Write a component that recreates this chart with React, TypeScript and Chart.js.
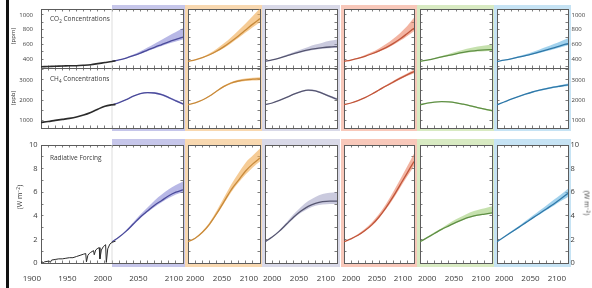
import React, { useEffect, useRef } from "react";
import { Chart, registerables } from "chart.js";

Chart.register(...registerables);

// ---------------- data ----------------
const scenarioYears = [2000, 2010, 2020, 2030, 2040, 2050, 2060, 2070, 2080, 2090, 2100];
const scenarioNames = ["A1B", "A1FI", "A1T", "A2", "B1", "B2"];

const histYears = [1900, 1910, 1920, 1930, 1940, 1950, 1960, 1970, 1980, 1990, 2000, 2005];
const histCO2 = [296, 300, 303, 307, 310, 311, 317, 325, 339, 354, 369, 379];
const histCH4 = [880, 925, 980, 1030, 1080, 1150, 1250, 1380, 1540, 1690, 1760, 1775];

const histRFYears = [1900, 1902, 1903, 1905, 1910, 1912, 1913, 1915, 1920, 1925, 1930, 1935, 1940, 1945, 1950, 1955, 1960, 1963, 1964, 1966, 1968, 1970, 1974, 1975, 1977, 1980, 1982, 1983, 1985, 1988, 1990, 1991, 1992, 1994, 1997, 2000, 2005];
const histRF = [0.05, 0.1, 0.0, 0.1, 0.15, 0.15, 0.05, 0.25, 0.3, 0.35, 0.35, 0.4, 0.45, 0.45, 0.55, 0.65, 0.75, 0.8, 0.1, 0.65, 0.8, 0.9, 1.05, 0.7, 1.1, 1.25, 1.3, 0.35, 1.1, 1.4, 1.5, 1.55, 0.05, 1.2, 1.6, 1.75, 1.85];

// CO2 (ppm) per scenario: A1B, A1FI, A1T, A2, B1, B2
const co2Mid = [
  [369, 389, 415, 447, 483, 522, 561, 598, 635, 668, 700],
  [369, 391, 420, 460, 510, 570, 640, 715, 795, 875, 950],
  [369, 390, 415, 444, 474, 502, 525, 543, 556, 565, 570],
  [369, 388, 411, 439, 473, 512, 557, 610, 672, 745, 820],
  [369, 388, 408, 430, 452, 473, 492, 508, 520, 527, 530],
  [369, 386, 405, 426, 448, 472, 498, 525, 553, 583, 612],
];
const co2Low = [
  [369, 387, 411, 440, 473, 508, 543, 577, 611, 640, 668],
  [369, 389, 415, 452, 498, 552, 617, 687, 760, 832, 900],
  [369, 388, 411, 438, 466, 491, 512, 528, 540, 547, 550],
  [369, 386, 408, 433, 465, 500, 542, 591, 648, 712, 780],
  [369, 386, 404, 424, 444, 463, 480, 493, 503, 508, 510],
  [369, 384, 401, 420, 440, 462, 485, 509, 535, 562, 590],
];
const co2High = [
  [369, 392, 423, 462, 507, 557, 610, 663, 717, 768, 818],
  [369, 394, 430, 480, 542, 615, 698, 790, 885, 985, 1090],
  [369, 393, 423, 458, 496, 532, 566, 597, 624, 648, 668],
  [369, 391, 419, 455, 497, 546, 604, 673, 752, 845, 960],
  [369, 391, 415, 442, 471, 500, 527, 551, 571, 585, 595],
  [369, 389, 412, 438, 466, 497, 531, 567, 604, 643, 682],
];

// CH4 (ppb)
const ch4Mid = [
  [1760, 1870, 2020, 2190, 2320, 2370, 2350, 2270, 2120, 1960, 1800],
  [1760, 1860, 2000, 2200, 2450, 2680, 2850, 2950, 3010, 3040, 3060],
  [1760, 1850, 1980, 2130, 2290, 2420, 2490, 2460, 2330, 2180, 2040],
  [1760, 1850, 1970, 2120, 2300, 2500, 2700, 2890, 3080, 3260, 3420],
  [1760, 1840, 1895, 1920, 1905, 1860, 1790, 1710, 1620, 1540, 1470],
  [1760, 1900, 2040, 2170, 2290, 2400, 2490, 2570, 2640, 2700, 2760],
];
const ch4Low = [
  [1760, 1862, 2005, 2170, 2295, 2340, 2315, 2230, 2075, 1910, 1750],
  [1760, 1852, 1985, 2180, 2420, 2640, 2800, 2895, 2950, 2975, 2990],
  [1760, 1842, 1965, 2110, 2265, 2390, 2455, 2420, 2285, 2130, 1985],
  [1760, 1842, 1955, 2100, 2275, 2465, 2660, 2840, 3020, 3195, 3340],
  [1760, 1833, 1882, 1902, 1882, 1835, 1762, 1680, 1588, 1505, 1430],
  [1760, 1892, 2025, 2150, 2265, 2370, 2455, 2530, 2595, 2650, 2700],
];
const ch4High = [
  [1760, 1878, 2035, 2210, 2345, 2400, 2385, 2310, 2165, 2010, 1850],
  [1760, 1868, 2015, 2220, 2480, 2720, 2900, 3010, 3075, 3110, 3140],
  [1760, 1858, 1995, 2150, 2315, 2450, 2525, 2500, 2375, 2230, 2095],
  [1760, 1858, 1985, 2140, 2325, 2535, 2745, 2945, 3145, 3330, 3510],
  [1760, 1847, 1908, 1938, 1928, 1885, 1818, 1740, 1652, 1575, 1510],
  [1760, 1908, 2055, 2190, 2315, 2430, 2525, 2610, 2685, 2750, 2820],
];

// Radiative forcing (W m-2)
const rfMid = [
  [1.8, 2.2, 2.7, 3.3, 3.9, 4.4, 4.9, 5.3, 5.7, 6.0, 6.2],
  [1.8, 2.1, 2.6, 3.3, 4.2, 5.2, 6.2, 7.0, 7.8, 8.4, 8.9],
  [1.8, 2.2, 2.7, 3.3, 3.9, 4.4, 4.8, 5.05, 5.2, 5.25, 5.25],
  [1.8, 2.05, 2.35, 2.75, 3.25, 3.9, 4.7, 5.6, 6.6, 7.6, 8.6],
  [1.8, 2.15, 2.5, 2.85, 3.15, 3.45, 3.7, 3.9, 4.05, 4.15, 4.25],
  [1.8, 2.2, 2.6, 3.0, 3.4, 3.8, 4.2, 4.6, 5.0, 5.45, 5.9],
];
const rfLow = [
  [1.8, 2.2, 2.65, 3.2, 3.8, 4.3, 4.75, 5.15, 5.5, 5.8, 6.0],
  [1.8, 2.1, 2.55, 3.2, 4.1, 5.05, 6.0, 6.8, 7.5, 8.1, 8.6],
  [1.8, 2.2, 2.65, 3.2, 3.8, 4.25, 4.6, 4.85, 4.95, 5.0, 5.0],
  [1.8, 2.05, 2.3, 2.7, 3.15, 3.8, 4.55, 5.4, 6.35, 7.3, 8.2],
  [1.8, 2.15, 2.45, 2.8, 3.1, 3.4, 3.65, 3.85, 4.0, 4.1, 4.15],
  [1.8, 2.2, 2.55, 2.95, 3.35, 3.75, 4.1, 4.5, 4.85, 5.25, 5.6],
];
const rfHigh = [
  [1.8, 2.25, 2.8, 3.45, 4.1, 4.7, 5.3, 5.8, 6.25, 6.6, 6.9],
  [1.8, 2.15, 2.7, 3.45, 4.45, 5.55, 6.65, 7.6, 8.5, 9.1, 9.7],
  [1.8, 2.25, 2.8, 3.45, 4.15, 4.75, 5.25, 5.6, 5.85, 5.95, 6.0],
  [1.8, 2.1, 2.45, 2.9, 3.45, 4.15, 5.0, 6.0, 7.05, 8.15, 9.25],
  [1.8, 2.2, 2.6, 2.95, 3.35, 3.7, 4.0, 4.3, 4.5, 4.65, 4.8],
  [1.8, 2.25, 2.7, 3.1, 3.55, 4.0, 4.45, 4.9, 5.35, 5.8, 6.3],
];

const co2Ticks = [400, 600, 800, 1000];
const ch4Ticks = [1000, 2000, 3000];
const rfTicks = [0, 2, 4, 6, 8, 10];
const histYearTicks = [1900, 1950, 2000, 2050, 2100];
const scenYearTicks = [2000, 2050, 2100];

// ---------------- styles ----------------
const FONT = '"Open Sans", "DejaVu Sans", sans-serif';
const TEXT = "#3a3a3a";
const FRAME = "#5c5c5c";
const bandColors = ["#c6c6ea", "#f8d8b0", "#d9d9e8", "#f8c8ba", "#d8eac2", "#c6e3f4"];
const fillColors = [
  "rgba(125,125,210,0.55)",
  "rgba(240,170,80,0.6)",
  "rgba(150,150,190,0.5)",
  "rgba(235,130,100,0.6)",
  "rgba(160,205,120,0.6)",
  "rgba(100,180,225,0.6)",
];
const lineColors = ["#4a4a9a", "#c88a3a", "#555570", "#c0553a", "#5f8f45", "#2f78a8"];

const cols: [number, number][] = [
  [41, 183],
  [188, 260],
  [265, 337],
  [344, 414],
  [420, 492],
  [497, 568],
];

function range(a: number, b: number, s: number) {
  const r: number[] = [];
  for (let v = a; v <= b + 1e-9; v += s) r.push(Math.round(v * 1000) / 1000);
  return r;
}

function pts(xs: number[], ys: number[]) {
  return xs.map((x, i) => ({ x, y: ys[i] }));
}

type Row = {
  key: string;
  top: number;
  bottom: number;
  min: number;
  max: number;
  minor: number[];
  labels: number[];
  mid: number[][];
  low: number[][];
  high: number[][];
  font: number;
  padL: number;
  padR: number;
  mt: number;
  mb: number;
  bandTop: number;
  bandBottom: number;
  topDash: number[] | null;
  showTopBorder: boolean;
  showBottomBorder: boolean;
  xLabels: boolean;
};

const rows: Row[] = [
  {
    key: "co2", top: 9, bottom: 68, min: 280, max: 1080, minor: range(300, 1000, 100), labels: co2Ticks,
    mid: co2Mid, low: co2Low, high: co2High, font: 6, padL: 10.5, padR: 6, mt: 6, mb: 1,
    bandTop: 4, bandBottom: 0, topDash: null, showTopBorder: true, showBottomBorder: false, xLabels: false,
  },
  {
    key: "ch4", top: 68, bottom: 128, min: 600, max: 3600, minor: range(1000, 3500, 500), labels: ch4Ticks,
    mid: ch4Mid, low: ch4Low, high: ch4High, font: 6, padL: 10.5, padR: 6, mt: 1, mb: 5,
    bandTop: 0, bandBottom: 3, topDash: [1.5, 1.2], showTopBorder: true, showBottomBorder: true, xLabels: false,
  },
  {
    key: "rf", top: 145, bottom: 263, min: 0, max: 10, minor: range(0, 10, 1), labels: rfTicks,
    mid: rfMid, low: rfLow, high: rfHigh, font: 7.5, padL: 6, padR: 5, mt: 8, mb: 25,
    bandTop: 6, bandBottom: 4, topDash: null, showTopBorder: true, showBottomBorder: true, xLabels: true,
  },
];

const bandPlugin = {
  id: "panelBand",
  beforeDraw(chart: any, _args: any, opts: any) {
    const { ctx, chartArea: a, scales } = chart;
    ctx.save();
    if (opts && opts.color) {
      const x0 = opts.from != null ? scales.x.getPixelForValue(opts.from) : a.left - opts.side;
      ctx.fillStyle = opts.color;
      ctx.fillRect(x0, a.top - opts.top, a.right + opts.side - x0, a.bottom - a.top + opts.top + opts.bottom);
    }
    ctx.fillStyle = "#ffffff";
    ctx.fillRect(a.left, a.top, a.right - a.left, a.bottom - a.top);
    ctx.restore();
  },
};

function makeAxis(opts: {
  position: string; min: number; max: number; ticks: number[]; fit: number; show: boolean;
  labels: number[]; font: number; padding: number; border: boolean; dash?: number[] | null;
  align?: string; labelOffset?: number;
}) {
  return {
    type: "linear",
    position: opts.position,
    min: opts.min,
    max: opts.max,
    afterBuildTicks: (s: any) => {
      s.ticks = opts.ticks.map((v) => ({ value: v }));
    },
    afterFit: (s: any) => {
      if (s.isHorizontal()) s.height = opts.fit;
      else s.width = opts.fit;
      s.paddingLeft = 0;
      s.paddingRight = 0;
      s.paddingTop = 0;
      s.paddingBottom = 0;
    },
    grid: { display: true, drawOnChartArea: false, drawTicks: true, tickLength: -2.5, color: FRAME, lineWidth: 0.8 },
    border: { display: opts.border, color: FRAME, width: 1, dash: opts.dash || [] },
    ticks: {
      display: opts.show,
      autoSkip: false,
      maxRotation: 0,
      minRotation: 0,
      align: opts.align || "center",
      labelOffset: opts.labelOffset || 0,
      padding: opts.padding,
      color: TEXT,
      font: { family: FONT, size: opts.font },
      callback: (v: any) => (opts.labels.includes(Number(v)) ? String(v) : ""),
    },
  };
}

type CellSpec = {
  key: string;
  canvas: { left: number; top: number; width: number; height: number };
  config: any;
};

function buildCells(): CellSpec[] {
  const out: CellSpec[] = [];
  cols.forEach(([l, r], ci) => {
    rows.forEach((row) => {
      const first = ci === 0;
      const last = ci === cols.length - 1;
      const side = row.xLabels ? 13 : 4;
      const ml = first ? l : side;
      const mr = last ? 592 - r : side;
      const xMin = first ? 1900 : scenarioYears[0];
      const xMax = scenarioYears[scenarioYears.length - 1];
      const xTicks = range(xMin, xMax, 10);
      const datasets: any[] = [
        {
          data: pts(scenarioYears, row.mid[ci]),
          borderColor: lineColors[ci],
          borderWidth: 1.3,
          pointRadius: 0,
          fill: false,
          cubicInterpolationMode: "monotone",
        },
        {
          data: pts(scenarioYears, row.high[ci]),
          borderColor: "rgba(0,0,0,0)",
          borderWidth: 0,
          backgroundColor: fillColors[ci],
          pointRadius: 0,
          fill: "+1",
          cubicInterpolationMode: "monotone",
        },
        {
          data: pts(scenarioYears, row.low[ci]),
          borderColor: "rgba(0,0,0,0)",
          borderWidth: 0,
          pointRadius: 0,
          fill: false,
          cubicInterpolationMode: "monotone",
        },
      ];
      if (first) {
        const hx = row.key === "rf" ? histRFYears : histYears;
        const hy = row.key === "co2" ? histCO2 : row.key === "ch4" ? histCH4 : histRF;
        datasets.unshift({
          data: pts(hx, hy),
          borderColor: "#2b2b2b",
          borderWidth: row.key === "rf" ? 1 : 1.6,
          pointRadius: 0,
          fill: false,
          tension: row.key === "rf" ? 0 : 0.3,
        });
        datasets.push({
          data: [
            { x: scenarioYears[0], y: row.min },
            { x: scenarioYears[0], y: row.max },
          ],
          borderColor: "#d4d4d4",
          borderWidth: 0.8,
          pointRadius: 0,
          fill: false,
        });
      }
      const xLabelSet = first ? histYearTicks : scenYearTicks;
      const config = {
        type: "line",
        data: { datasets: datasets.map((d) => ({ ...d, xAxisID: "x", yAxisID: "y" })) },
        plugins: [bandPlugin],
        options: {
          responsive: false,
          animation: false,
          events: [],
          layout: { padding: 0, autoPadding: false },
          plugins: {
            legend: { display: false },
            tooltip: { enabled: false },
            panelBand: {
              color: bandColors[ci],
              from: first ? scenarioYears[0] : null,
              side: 3,
              top: row.bandTop,
              bottom: row.bandBottom,
            },
          },
          scales: {
            x: makeAxis({
              position: "bottom", min: xMin, max: xMax, ticks: xTicks, fit: row.mb, show: row.xLabels,
              labels: xLabelSet, font: 8, padding: 13.5, border: row.showBottomBorder,
              align: first ? "end" : "inner", labelOffset: first ? 0 : -2,
            }),
            xTop: makeAxis({
              position: "top", min: xMin, max: xMax, ticks: xTicks, fit: row.mt, show: false,
              labels: [], font: 8, padding: 0, border: row.showTopBorder, dash: row.topDash,
            }),
            y: makeAxis({
              position: "left", min: row.min, max: row.max, ticks: row.minor, fit: ml, show: first,
              labels: row.labels, font: row.font, padding: row.padL, border: true,
            }),
            yR: makeAxis({
              position: "right", min: row.min, max: row.max, ticks: row.minor, fit: mr, show: last,
              labels: row.labels, font: row.font, padding: row.padR, border: true,
            }),
          },
        },
      };
      out.push({
        key: row.key + "-" + scenarioNames[ci],
        canvas: { left: l - ml, top: row.top - row.mt, width: r - l + ml + mr, height: row.bottom - row.top + row.mt + row.mb },
        config,
      });
    });
  });
  return out;
}

function Cell({ spec }: { spec: CellSpec }) {
  const ref = useRef<HTMLCanvasElement>(null);
  useEffect(() => {
    const chart = new Chart(ref.current as HTMLCanvasElement, spec.config);
    return () => chart.destroy();
  }, [spec]);
  const c = spec.canvas;
  return (
    <canvas
      ref={ref}
      width={c.width}
      height={c.height}
      style={{ position: "absolute", left: c.left, top: c.top, width: c.width, height: c.height }}
    />
  );
}

const sub = (t: string) => (
  <span style={{ fontSize: "0.7em", position: "relative", top: "0.35em" }}>{t}</span>
);
const sup = (t: string) => (
  <span style={{ fontSize: "0.7em", position: "relative", top: "-0.45em" }}>{t}</span>
);

const cellSpecs = buildCells();

export default function App() {
  const base: React.CSSProperties = {
    position: "absolute",
    fontFamily: FONT,
    color: TEXT,
    whiteSpace: "nowrap",
    lineHeight: 1,
  };
  const rot = (deg: number): React.CSSProperties => ({
    transform: `translate(-50%, -50%) rotate(${deg}deg)`,
  });
  return (
    <div style={{ position: "fixed", left: 0, top: 0, width: 592, height: 288, background: "#fff", overflow: "hidden" }}>
      <div style={{ position: "absolute", left: 6, top: 0, width: 3, height: 288, background: "#111" }} />
      {cellSpecs.map((s) => (
        <Cell key={s.key} spec={s} />
      ))}
      <div style={{ ...base, left: 50, top: 16, fontSize: 6.5 }}>CO{sub("2")} Concentrations</div>
      <div style={{ ...base, left: 50, top: 76, fontSize: 6.5 }}>CH{sub("4")} Concentrations</div>
      <div style={{ ...base, left: 50, top: 155, fontSize: 6.5 }}>Radiative Forcing</div>
      <div style={{ ...base, left: 12.5, top: 36, fontSize: 6, ...rot(-90) }}>(ppm)</div>
      <div style={{ ...base, left: 12.5, top: 98, fontSize: 6, ...rot(-90) }}>(ppb)</div>
      <div style={{ ...base, left: 19, top: 197, fontSize: 7, ...rot(-90) }}>(W m{sup("−2")})</div>
      <div style={{ ...base, left: 587, top: 203, fontSize: 7, ...rot(90) }}>(W m{sup("−2")})</div>
    </div>
  );
}
